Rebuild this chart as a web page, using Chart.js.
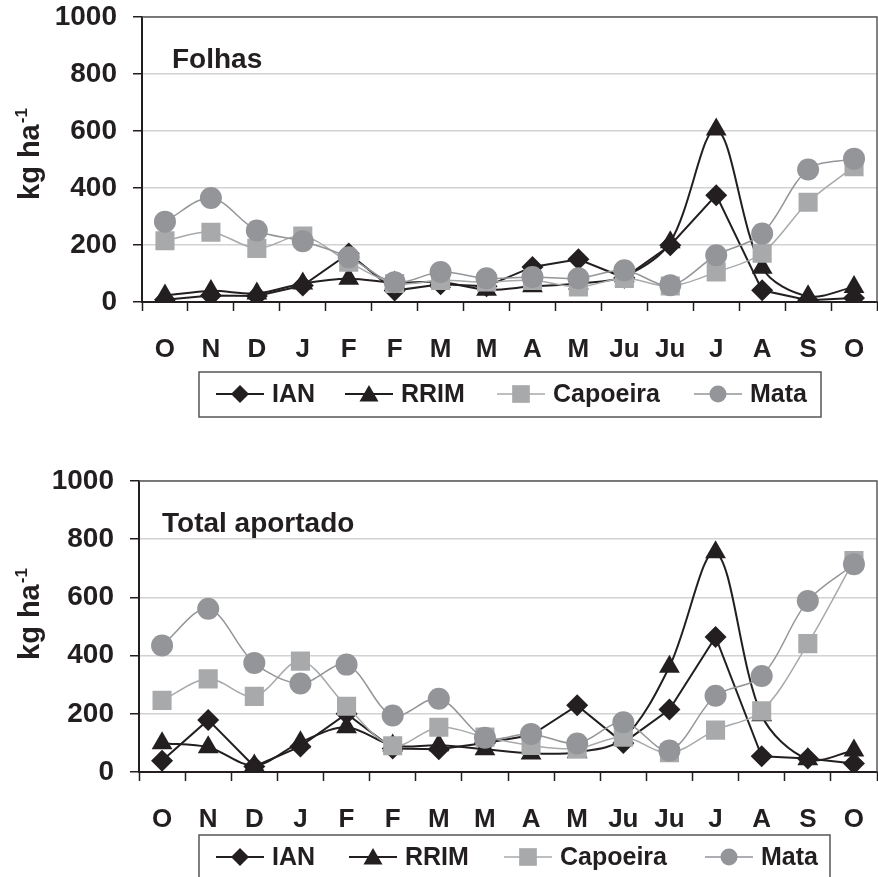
<!DOCTYPE html>
<html lang="pt-br">
<head>
  <meta charset="UTF-8" />
  <title>Folhas e Total aportado</title>
  <script src="https://cdn.jsdelivr.net/npm/chart.js"></script>
  <style>
    * { margin: 0; padding: 0; box-sizing: border-box; }
    body { background: #fff; width: 878px; height: 877px; overflow: hidden; position: relative; }
    .painel { position: absolute; left: 0; width: 878px; }
    #p1 { top: 0; height: 440px; }
    #p2 { top: 440px; height: 437px; }
  </style>
</head>
<body>
  <div class="painel" id="p1"><canvas id="folhas" width="878" height="440"></canvas></div>
  <div class="painel" id="p2"><canvas id="total" width="878" height="437"></canvas></div>

<script>
  // meses de outubro a outubro
  const meses = ["O", "N", "D", "J", "F", "F", "M", "M", "A", "M", "Ju", "Ju", "J", "A", "S", "O"];
  const marcasY = [0, 200, 400, 600, 800, 1000];
  const nomes = ["IAN", "RRIM", "Capoeira", "Mata"];

  // Folhas (kg ha-1)
  const folhasIAN      = [8, 23, 21, 58, 170, 40, 62, 55, 123, 150, 85, 199, 375, 41, 6, 14];
  const folhasRRIM     = [23, 39, 30, 65, 82, 68, 70, 43, 55, 65, 90, 210, 605, 120, 20, 53];
  const folhasCapoeira = [215, 245, 188, 231, 140, 65, 76, 70, 76, 53, 83, 56, 105, 171, 350, 475];
  const folhasMata     = [282, 365, 251, 213, 157, 69, 105, 83, 88, 83, 111, 59, 164, 240, 465, 503];

  // Total aportado (kg ha-1)
  const totalIAN      = [39, 179, 19, 88, 200, 81, 78, 100, 126, 229, 100, 215, 464, 54, 46, 29];
  const totalRRIM     = [99, 85, 22, 102, 154, 91, 92, 78, 64, 68, 115, 362, 755, 195, 44, 74];
  const totalCapoeira = [246, 320, 260, 381, 226, 90, 154, 120, 91, 81, 120, 66, 144, 210, 441, 727];
  const totalMata     = [435, 561, 375, 304, 369, 194, 252, 118, 131, 98, 171, 74, 262, 330, 588, 714];

  const FONTE = "'Liberation Sans', Arial, sans-serif";
  const PRETO = "#231f20";
  const CINZA_CLARO = "#a7a9ab";
  const CINZA = "#939598";

  function montarSeries(ian, rrim, capoeira, mata) {
    return [
      { label: nomes[0], data: ian, borderColor: PRETO, backgroundColor: PRETO, borderWidth: 2,
        pointStyle: "rectRot", pointRadius: 11, pointBorderWidth: 0, tension: 0, order: 4, legendaRaio: 9 },
      { label: nomes[1], data: rrim, borderColor: PRETO, backgroundColor: PRETO, borderWidth: 2,
        pointStyle: "triangle", pointRadius: 12, pointBorderWidth: 0, tension: 0.33, order: 3, legendaRaio: 11 },
      { label: nomes[2], data: capoeira, borderColor: CINZA_CLARO, backgroundColor: CINZA_CLARO, borderWidth: 1.5,
        pointStyle: "rect", pointRadius: 13.5, pointBorderWidth: 0, tension: 0.33, order: 2, legendaRaio: 12.5 },
      { label: nomes[3], data: mata, borderColor: CINZA, backgroundColor: CINZA, borderWidth: 1.5,
        pointStyle: "circle", pointRadius: 11, pointBorderWidth: 0, tension: 0.33, order: 1, legendaRaio: 8.5 }
    ];
  }

  // moldura, título do eixo, título do painel e legenda com caixa
  const enfeites = {
    id: "enfeites",
    beforeDatasetsDraw(chart) {
      const { ctx, chartArea: a } = chart;
      ctx.save();
      ctx.strokeStyle = "#5a5a5a";
      ctx.lineWidth = 1.5;
      ctx.beginPath();
      ctx.moveTo(a.left, a.top);
      ctx.lineTo(a.right, a.top);
      ctx.lineTo(a.right, a.bottom);
      ctx.stroke();
      ctx.restore();
    },
    afterDraw(chart, args, o) {
      const { ctx } = chart;
      ctx.save();
      ctx.fillStyle = PRETO;

      // título do painel
      ctx.font = "bold 28px " + FONTE;
      ctx.textBaseline = "alphabetic";
      ctx.textAlign = "left";
      ctx.fillText(o.painel, o.painelX, o.painelY);

      // kg ha-1 na vertical
      ctx.save();
      ctx.translate(39, o.eixoY);
      ctx.rotate(-Math.PI / 2);
      ctx.font = "bold 29px " + FONTE;
      ctx.fillText("kg ha", 0, 0);
      const w = ctx.measureText("kg ha").width;
      ctx.font = "bold 17px " + FONTE;
      ctx.fillText("-1", w + 1, -12);
      ctx.restore();

      // legenda
      const L = o.legenda;
      ctx.strokeStyle = "#555";
      ctx.lineWidth = 1.5;
      ctx.strokeRect(L.esq, L.topo, L.dir - L.esq, L.base - L.topo);
      ctx.font = "bold 25px " + FONTE;
      ctx.textBaseline = "middle";
      chart.data.datasets.forEach((ds, i) => {
        const x0 = L.itens[i];
        ctx.strokeStyle = ds.borderColor;
        ctx.lineWidth = ds.borderWidth;
        ctx.beginPath();
        ctx.moveTo(x0, L.meio);
        ctx.lineTo(x0 + 48, L.meio);
        ctx.stroke();
        ctx.fillStyle = ds.backgroundColor;
        Chart.helpers.drawPoint(ctx, { pointStyle: ds.pointStyle, radius: ds.legendaRaio, rotation: 0, borderWidth: 0 },
          x0 + 24, L.meio + (ds.pointStyle === "triangle" ? 2 : 0));
        ctx.fillStyle = PRETO;
        ctx.fillText(ds.label, x0 + 56, L.meio + 1);
      });
      ctx.restore();
    }
  };

  function desenharGrafico(id, series, alturaX, larguraY, topo, enfeitesOpts) {
    const ctx = document.getElementById(id).getContext("2d");
    return new Chart(ctx, {
      type: "line",
      data: { labels: meses, datasets: series },
      plugins: [enfeites],
      options: {
        responsive: false,
        animation: false,
        layout: { autoPadding: false, padding: { top: topo, right: 1, left: 0, bottom: 0 } },
        plugins: {
          legend: { display: false },
          tooltip: { enabled: false },
          enfeites: enfeitesOpts
        },
        scales: {
          x: {
            offset: true,
            grid: { display: true, drawOnChartArea: false, drawTicks: true, tickLength: 9,
                    offset: true, tickColor: PRETO, tickWidth: 1.5 },
            border: { color: PRETO, width: 2 },
            ticks: { color: PRETO, font: { family: FONTE, size: 26, weight: "bold" },
                     padding: 23, maxRotation: 0, autoSkip: false },
            afterFit(s) {
              s.height = alturaX;
              s.paddingLeft = 0;
              s.paddingRight = 0;
            }
          },
          y: {
            min: 0,
            max: 1000,
            afterBuildTicks(s) { s.ticks = marcasY.map(v => ({ value: v })); },
            grid: {
              color: c => (c.tick.value === 0 ? "rgba(0,0,0,0)" : "#d2d2d2"),
              lineWidth: 1.5, drawTicks: true, tickLength: 9, tickColor: PRETO, tickWidth: 1.5
            },
            border: { color: PRETO, width: 2 },
            ticks: { color: PRETO, font: { family: FONTE, size: 28, weight: "bold" }, padding: 16,
                     callback: v => String(v) },
            afterFit(s) {
              s.width = larguraY;
              s.paddingTop = 0;
              s.paddingBottom = 0;
            }
          }
        }
      }
    });
  }

  desenharGrafico("folhas", montarSeries(folhasIAN, folhasRRIM, folhasCapoeira, folhasMata), 138, 142, 17, {
    painel: "Folhas", painelX: 172, painelY: 68, eixoY: 200,
    legenda: { esq: 199, dir: 821, topo: 372, base: 417, meio: 394, itens: [216, 345, 497, 694] }
  });

  desenharGrafico("total", montarSeries(totalIAN, totalRRIM, totalCapoeira, totalMata), 105, 139, 41, {
    painel: "Total aportado", painelX: 162, painelY: 92, eixoY: 220,
    legenda: { esq: 199, dir: 830, topo: 395, base: 445, meio: 417, itens: [216, 349, 504, 705] }
  });
</script>
</body>
</html>
